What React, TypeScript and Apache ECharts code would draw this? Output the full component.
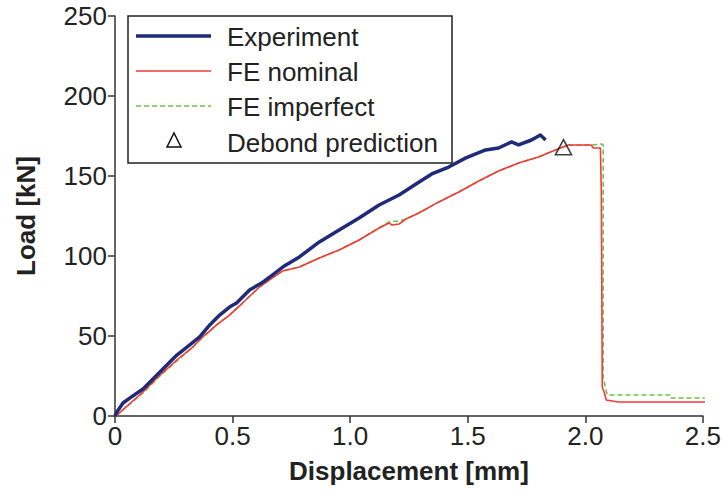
import React, { useEffect, useRef } from "react";
import * as echarts from "echarts";

// Experiment: [displacement mm, load kN]
const experimentX = [0, 0.008, 0.034, 0.064, 0.119, 0.191, 0.263, 0.318, 0.36, 0.403, 0.445, 0.487, 0.517, 0.572, 0.623, 0.669, 0.72, 0.784, 0.869, 0.953, 1.038, 1.123, 1.208, 1.28, 1.347, 1.419, 1.492, 1.576, 1.631, 1.686, 1.716, 1.771, 1.809, 1.831];
const experimentY = [0, 2.5, 8.1, 11.3, 16.9, 27.5, 38.1, 44.4, 49.4, 56.9, 63.1, 68.1, 70.6, 78.8, 83.1, 88.1, 93.8, 99.4, 108.8, 116.3, 123.8, 131.9, 138.1, 145.0, 151.3, 155.6, 161.3, 166.3, 167.5, 171.3, 169.4, 172.5, 175.6, 172.5];

const nominalX = [0, 0.008, 0.119, 0.191, 0.263, 0.331, 0.373, 0.39, 0.432, 0.487, 0.542, 0.614, 0.669, 0.712, 0.784, 0.869, 0.953, 1.038, 1.123, 1.165, 1.178, 1.208, 1.237, 1.292, 1.377, 1.462, 1.547, 1.631, 1.716, 1.801, 1.873, 1.928, 2.025, 2.034, 2.064, 2.068, 2.072, 2.081, 2.089, 2.14, 2.525];
const nominalY = [0, 0.6, 15.0, 25.6, 35.0, 43.1, 49.4, 51.3, 56.9, 63.1, 70.6, 80.6, 86.3, 90.6, 93.1, 98.8, 103.8, 110.0, 117.5, 120.6, 119.4, 120.0, 123.1, 126.9, 133.8, 140.0, 146.9, 153.1, 158.1, 161.9, 166.3, 169.4, 169.4, 167.5, 167.5, 140.0, 18.1, 14.4, 10.0, 8.75, 8.75];

const imperfectX = [0, 0.008, 0.119, 0.191, 0.263, 0.331, 0.39, 0.432, 0.487, 0.542, 0.614, 0.669, 0.712, 0.784, 0.869, 0.953, 1.038, 1.123, 1.165, 1.208, 1.237, 1.292, 1.377, 1.462, 1.547, 1.631, 1.716, 1.801, 1.873, 1.928, 2.025, 2.072, 2.076, 2.076, 2.085, 2.093, 2.364, 2.364, 2.508];
const imperfectY = [0, 0.6, 14.4, 25.0, 34.4, 43.1, 51.9, 56.9, 63.1, 70.6, 80.6, 86.3, 90.6, 93.1, 98.8, 103.8, 110.0, 117.5, 121.3, 121.9, 123.1, 126.9, 133.8, 140.0, 146.9, 153.1, 158.1, 161.9, 166.3, 169.4, 169.4, 170.0, 169.4, 24.4, 18.1, 13.1, 13.1, 11.25, 11.25];

const debondX = [1.907];
const debondY = [168];

const xTicks = [0, 0.5, 1.0, 1.5, 2.0, 2.5];
const yTicks = [0, 50, 100, 150, 200, 250];

const legendLabels = ["Experiment", "FE nominal", "FE imperfect", "Debond prediction"];

const FONT = "Liberation Sans, Arial, sans-serif";
const FS = 26;
const NAVY = "#1f2a78";
const RED = "#f23a3a";
const GREEN = "#6cc24a";
const INK = "#222222";

const zip = (xs: number[], ys: number[]) => xs.map((x, i) => [x, ys[i]]);

export default function App() {
  const ref = useRef<HTMLDivElement>(null);
  useEffect(() => {
    if (!ref.current) return;
    const chart = echarts.init(ref.current, undefined, { renderer: "svg" });
    const rowY = [37, 72, 107, 143];
    chart.setOption({
      animation: false,
      backgroundColor: "#ffffff",
      grid: { left: 115, right: 20, top: 16, bottom: 79, containLabel: false },
      xAxis: {
        type: "value",
        min: xTicks[0],
        max: xTicks[xTicks.length - 1],
        interval: 0.5,
        name: "Displacement [mm]",
        nameLocation: "middle",
        nameGap: 42,
        nameTextStyle: { fontFamily: FONT, fontSize: FS, fontWeight: "bold", color: INK },
        axisLine: { show: true, onZero: false, lineStyle: { color: "#333", width: 1.5 } },
        axisTick: { show: true, inside: false, length: 7, lineStyle: { color: "#333", width: 1.5 } },
        axisLabel: {
          fontFamily: FONT,
          fontSize: FS,
          color: INK,
          margin: 7,
          formatter: (v: number) => (v === 0 ? "0" : v.toFixed(1)),
        },
        splitLine: { show: false },
      },
      yAxis: {
        type: "value",
        min: yTicks[0],
        max: yTicks[yTicks.length - 1],
        interval: 50,
        name: "Load [kN]",
        nameLocation: "middle",
        nameGap: 76,
        nameRotate: 90,
        nameTextStyle: { fontFamily: FONT, fontSize: FS, fontWeight: "bold", color: INK },
        axisLine: { show: true, onZero: false, lineStyle: { color: "#333", width: 1.5 } },
        axisTick: { show: true, inside: false, length: 7, lineStyle: { color: "#333", width: 1.5 } },
        axisLabel: { fontFamily: FONT, fontSize: FS, color: INK, margin: 8 },
        splitLine: { show: false },
      },
      series: [
        {
          name: "FE imperfect",
          type: "line",
          data: zip(imperfectX, imperfectY),
          showSymbol: false,
          lineStyle: { color: GREEN, width: 1.6, type: [5, 3] },
          z: 2,
        },
        {
          name: "FE nominal",
          type: "line",
          data: zip(nominalX, nominalY),
          showSymbol: false,
          lineStyle: { color: RED, width: 1.6 },
          z: 3,
        },
        {
          name: "Experiment",
          type: "line",
          data: zip(experimentX, experimentY),
          showSymbol: false,
          lineStyle: { color: NAVY, width: 3.5, join: "round" },
          z: 4,
        },
        {
          name: "Debond prediction",
          type: "scatter",
          data: zip(debondX, debondY),
          symbol: "triangle",
          symbolSize: [16, 15],
          itemStyle: { color: "rgba(255,255,255,0)", borderColor: "#111", borderWidth: 1.6 },
          z: 5,
        },
      ],
      graphic: [
        {
          type: "group",
          z: 100,
          children: [
            {
              type: "rect",
              shape: { x: 128, y: 16, width: 324, height: 147 },
              style: { fill: "#ffffff", stroke: "#222", lineWidth: 1.5 },
            },
            {
              type: "line",
              shape: { x1: 136, y1: rowY[0] - 1, x2: 211, y2: rowY[0] - 1 },
              style: { stroke: NAVY, lineWidth: 3.5 },
            },
            {
              type: "line",
              shape: { x1: 136, y1: rowY[1] - 1, x2: 211, y2: rowY[1] - 1 },
              style: { stroke: RED, lineWidth: 1.6 },
            },
            {
              type: "line",
              shape: { x1: 136, y1: rowY[2] - 1, x2: 211, y2: rowY[2] - 1 },
              style: { stroke: GREEN, lineWidth: 1.6, lineDash: [5, 3] },
            },
            {
              type: "polygon",
              shape: { points: [[174, 133], [181, 147], [167, 147]] },
              style: { fill: "none", stroke: "#111", lineWidth: 1.5 },
            },
            ...legendLabels.map((t, i) => ({
              type: "text",
              x: 227,
              y: rowY[i],
              style: {
                text: t,
                fontFamily: FONT,
                fontSize: FS,
                fill: INK,
                textVerticalAlign: "middle",
                verticalAlign: "middle",
              },
            })),
          ],
        },
      ],
    });
    return () => chart.dispose();
  }, []);
  return <div ref={ref} style={{ width: 724, height: 495, position: "absolute", left: 0, top: 0 }} />;
}
